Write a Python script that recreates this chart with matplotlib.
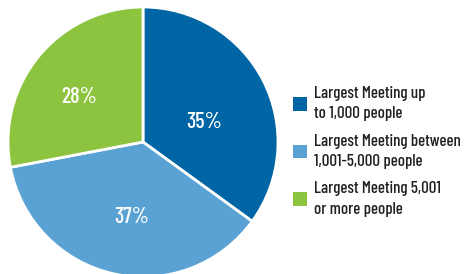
import matplotlib
matplotlib.use("Agg")
import matplotlib.pyplot as plt
from matplotlib.patches import Patch

categories = ["Largest Meeting up\nto 1,000 people",
              "Largest Meeting between\n1,001-5,000 people",
              "Largest Meeting 5,001\nor more people"]
values = [35, 37, 28]
colors = ["#0065A4", "#5BA2D4", "#8CC43F"]

font = ["Barlow Condensed", "DejaVu Sans"]

fig = plt.figure(figsize=(4.66, 2.74), dpi=100)
cx, cy, r = 143, 132, 135
ax = fig.add_axes([(cx - r) / 466, (cy - r) / 274, 2 * r / 466, 2 * r / 274])
wedges, texts, autotexts = ax.pie(
    values, colors=colors, startangle=90, counterclock=False,
    autopct="%d%%", pctdistance=0.55,
    wedgeprops=dict(edgecolor="white", linewidth=2),
    textprops=dict(color="white", fontsize=16, family=font, weight="medium"))
ax.set_xlim(-1, 1)
ax.set_ylim(-1, 1)
ax.set_aspect("equal")
ax.axis("off")
for w in wedges:
    w.set_clip_on(False)

# label placement (pixel offsets from pie centre, as in the reference)
label_offsets = [(61, 20), (-11, -75), (-64, 45)]
for t, (dx, dy) in zip(autotexts, label_offsets):
    t.set_position((dx / r, dy / r))

handles = [Patch(facecolor=c, edgecolor="none") for c in colors]
leg = fig.legend(handles, categories, loc="upper left",
           bbox_to_anchor=(293 / 466, 1 - 86 / 274), frameon=False,
           prop=dict(family=font, size=12.2, weight="medium"), labelcolor="#231F20",
           handlelength=0.85, handleheight=0.85, handletextpad=0.4,
           labelspacing=0.72, borderpad=0, borderaxespad=0)
for t in leg.get_texts():
    t.set_linespacing(1.45)

fig.savefig("out.png", dpi=100)
